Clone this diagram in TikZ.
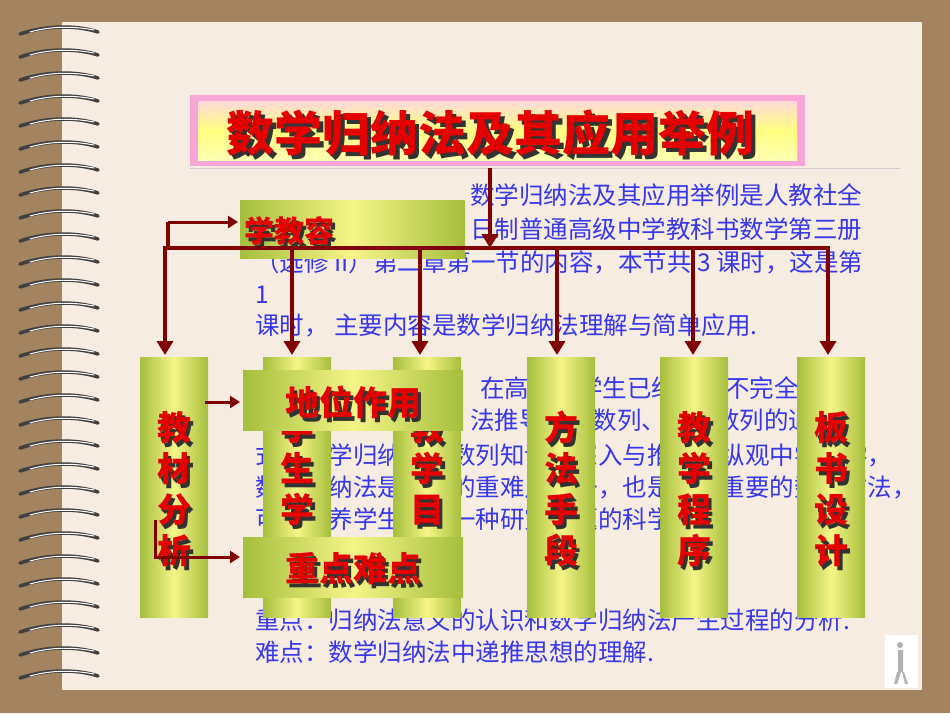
\documentclass[tikz,border=0pt]{standalone}
\usepackage{fontspec}
\newfontfamily\cjk{Noto Sans CJK SC}
\usetikzlibrary{arrows.meta}
\definecolor{olive}{RGB}{165,190,60}
\definecolor{lemon}{RGB}{245,245,135}
\definecolor{inkblue}{RGB}{55,55,235}

\begin{document}
\begin{tikzpicture}[x=1pt, y=-1pt,
    barbox/.style={draw=none, left color=olive, right color=olive, middle color=lemon},
    redtxt/.style={text=red!90!black, font=\cjk\bfseries\fontsize{34}{41}\selectfont, align=center, inner sep=0pt},
    shadetxt/.style={text=black!80, font=\cjk\bfseries\fontsize{34}{41}\selectfont, align=center, inner sep=0pt},
    bluetxt/.style={text=inkblue, font=\cjk\fontsize{24.5}{24.5}\selectfont, anchor=west, inner sep=0pt},
    pipe/.style={draw=red!50!black, line width=4.5pt},
    arrow/.style={pipe, -{Triangle[length=14pt, width=16pt]}}
]
    \useasboundingbox (0,0) rectangle (950,713);
    % frame and page
    \fill[brown!70!black!75] (0,0) rectangle (950,713);
    \fill[white!85!brown] (62,22) rectangle (922,690);
    % spiral binding
    \foreach \y in {30,53,...,690} {
        \draw[gray!50!black, line width=3.5pt, line cap=round] (20,\y+4) .. controls (50,\y-6) and (80,\y-4) .. (98,\y+2);
        \draw[white!70, line width=1pt, line cap=round] (30,\y+2) .. controls (55,\y-5) and (78,\y-3) .. (94,\y);
    }
    \draw[gray!40] (190,168) -- (900,168);

    % first paragraph
    \node[bluetxt] (p1a) at (470,195) {数学归纳法及其应用举例是人教社全};
    \node[bluetxt] (p1b) at (470,229) {日制普通高级中学教科书数学第三册};
    \node[bluetxt] (p1c) at (255,262) {（选修 II）第二章第一节的内容，本节共 3 课时，这是第};
    \node[bluetxt] (p1d) at (255,295) {1};
    \node[bluetxt] (p1e) at (255,325) {课时，\ 主要内容是数学归纳法理解与简单应用.};
    % second paragraph
    \node[bluetxt] (p2a) at (480,388) {在高一，学生已经会用不完全归纳};
    \node[bluetxt] (p2b) at (470,420) {法推导等差数列、等比数列的通项公};
    \node[bluetxt] (p2c) at (255,455) {式．数学归纳法是数列知识的深入与推广．纵观中学数学，};
    \node[bluetxt] (p2d) at (255,487) {数学归纳法是中学的重难点之一，也是一种重要的数学方法，};
    \node[bluetxt] (p2e) at (255,519) {可以培养学生学习一种研究问题的科学方法．};
    % key points
    \node[bluetxt] (key) at (255,620) {重点：归纳法意义的认识和数学归纳法产生过程的分析.};
    \node[bluetxt] (hard) at (255,652) {难点：数学归纳法中递推思想的理解.};

    % title
    \fill[magenta!35!white] (190,95) rectangle (805,166);
    \shade[top color=pink!60!white, bottom color=yellow!30!white, middle color=yellow!50!white] (198,101) rectangle (797,160);
    \node[shadetxt, font=\cjk\bfseries\fontsize{48}{48}\selectfont] at (494,137) {数学归纳法及其应用举例};
    \node[redtxt, font=\cjk\bfseries\fontsize{48}{48}\selectfont] (title) at (490,133) {数学归纳法及其应用举例};

    % content box
    \shade[barbox] (240,200) rectangle (465,258);
    \node[shadetxt, font=\cjk\bfseries\fontsize{30}{30}\selectfont] at (292,235) {学教容};
    \node[redtxt, font=\cjk\bfseries\fontsize{30}{30}\selectfont] (content) at (289,231) {学教容};

    % connectors from title
    \coordinate (hub) at (490,248);
    \coordinate (lt) at (168,222);
    \coordinate (lb) at (168,248);
    \draw[arrow] (490,168) -- (hub);
    \draw[pipe] (lt) -- (lb) -- (828,248);
    \draw[arrow, line width=3pt, -{Triangle[length=10pt, width=12pt]}] (lt) -- (238,222);

    % columns
    \foreach \x in {174,297,427,561,694,831}
        \shade[barbox] (\x-34,357) rectangle (\x+34,617);
    \node[shadetxt] at (177,493) {教\\材\\分\\析};
    \node[redtxt] (analysis) at (174,489) {教\\材\\分\\析};
    \node[shadetxt] at (300,472) {学\\生\\学};
    \node[redtxt] (student) at (297,468) {学\\生\\学};
    \node[shadetxt] at (430,472) {教\\学\\目};
    \node[redtxt] (goal) at (427,468) {教\\学\\目};
    \node[shadetxt] at (564,493) {方\\法\\手\\段};
    \node[redtxt] (method) at (561,489) {方\\法\\手\\段};
    \node[shadetxt] at (697,493) {教\\学\\程\\序};
    \node[redtxt] (process) at (694,489) {教\\学\\程\\序};
    \node[shadetxt] at (834,493) {板\\书\\设\\计};
    \node[redtxt] (board) at (831,489) {板\\书\\设\\计};

    \foreach \x in {165,292,420,557,693,828}
        \draw[arrow] (\x,246) -- (\x,355);

    % side boxes
    \shade[barbox] (243,370) rectangle (463,430);
    \node[shadetxt] at (356,406) {地位作用};
    \node[redtxt] (role) at (353,402) {地位作用};
    \shade[barbox] (243,537) rectangle (463,597);
    \node[shadetxt] at (356,573) {重点难点};
    \node[redtxt] (keys) at (353,569) {重点难点};

    \draw[arrow, line width=3pt, -{Triangle[length=10pt, width=12pt]}] (205,402) -- (240,402);
    \coordinate (bend) at (155,557);
    \draw[arrow, line width=3pt, -{Triangle[length=10pt, width=12pt]}] (155,520) -- (bend) -- (240,557);

    % small picture
    \fill[white] (885,635) rectangle (918,688);
    \fill[gray!60] (900,645) circle (3) (898,650) rectangle (903,672) (897,672) -- (894,684) -- (897,684) -- (901,672) (902,672) -- (905,684) -- (908,684) -- (904,672);
\end{tikzpicture}
\end{document}
